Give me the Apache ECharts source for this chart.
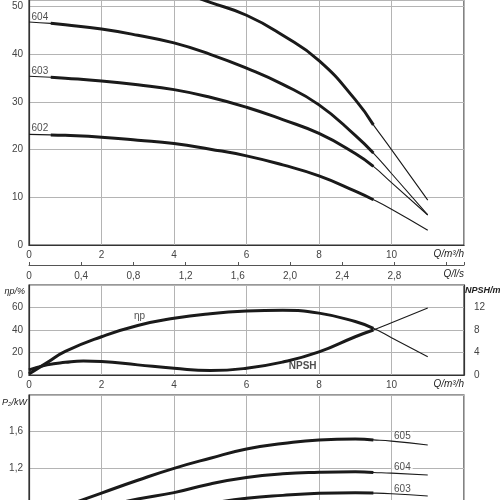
<!DOCTYPE html>
<html>
<head>
<meta charset="utf-8">
<script src="https://cdn.jsdelivr.net/npm/echarts@6/dist/echarts.min.js"></script>
<style>
  html, body { margin: 0; padding: 0; background: #fff; }
  #chart { width: 500px; height: 500px; }
</style>
</head>
<body>
<div id="chart"></div>
<script>
// head curves H (m) over Q (m³/h)
var qHead = [0, 0.6, 1, 2, 3, 4, 5, 6, 7, 8, 9, 9.5, 10, 11];
var head602 = [23.2, 23.1, 23.0, 22.6, 22.0, 21.3, 20.1, 18.7, 16.8, 14.5, 11.3, 9.5, 7.5, 3.1];
var head603 = [35.4, 35.2, 35.0, 34.4, 33.6, 32.6, 31.0, 28.9, 26.3, 23.4, 19.2, 16.5, 13.1, 6.3];
var head604 = [46.8, 46.5, 46.2, 45.3, 44.0, 42.4, 40.0, 37.1, 33.7, 29.4, 23.0, 19.3, 15.0, 6.3];
var head605 = [58.6, 58.4, 58.2, 57.3, 55.8, 53.6, 50.9, 48.2, 44.0, 38.7, 30.5, 25.2, 20.0, 9.4];
var headNames = ['602', '603', '604'];
var headNamePos = [[0.3, 24.4], [0.3, 36.5], [0.3, 47.7]];

// efficiency (%) and NPSH (m)
var qEff = [0, 0.5, 1, 2, 3, 4, 5, 6, 7, 8, 9, 9.5, 10, 11];
var eff = [1, 11, 21, 34, 44, 50.4, 54.5, 56.8, 57.5, 55, 47.5, 41.5, 33.2, 16.3];
var qNpsh = [0, 0.5, 1, 1.5, 2, 3, 4, 5, 6, 7, 8, 9, 9.5, 10, 11];
var npsh = [0.9, 1.8, 2.25, 2.5, 2.4, 1.8, 1.2, 0.8, 1.2, 2.3, 4.1, 6.8, 8.0, 9.3, 11.9];

// shaft power P2 (kW)
var qPow = [0, 1, 2, 3, 4, 5, 6, 7, 8, 9, 9.5, 10, 11];
var p603 = [0.5, 0.57, 0.63, 0.70, 0.76, 0.82, 0.873, 0.905, 0.927, 0.934, 0.93, 0.922, 0.898];
var p604 = [0.6, 0.69, 0.78, 0.865, 0.935, 1.03, 1.10, 1.14, 1.157, 1.163, 1.155, 1.148, 1.127];
var p605 = [0.66, 0.79, 0.93, 1.07, 1.2, 1.31, 1.41, 1.47, 1.51, 1.52, 1.51, 1.497, 1.455];
var powNames = ['605', '604', '603'];
var powNamePos = [[10.3, 1.545], [10.3, 1.207], [10.3, 0.975]];

var FONT = 'Liberation Sans';
var INK = '#1a1a1a';
var GRID_LINE = { show: true, lineStyle: { color: '#b4b4b4', width: 1 } };

function pts(q, v, lo, hi) {
  return q.map(function (x, i) { return [x, v[i]]; })
    .filter(function (p) { return p[0] >= lo && p[0] <= hi; });
}

// thin line over the whole range, thick line over the working range
function curve(xi, yi, q, v, lo, hi) {
  var base = { type: 'line', xAxisIndex: xi, yAxisIndex: yi, smooth: 0.5, showSymbol: false, silent: true };
  return [
    Object.assign({}, base, { data: pts(q, v, -1, 99), lineStyle: { color: INK, width: 1.1 } }),
    Object.assign({}, base, { data: pts(q, v, lo, hi), lineStyle: { color: INK, width: 3 } })
  ];
}

function tags(xi, yi, names, pos, extra) {
  return {
    type: 'scatter', xAxisIndex: xi, yAxisIndex: yi, symbolSize: 0, silent: true,
    data: names.map(function (n, i) { return { name: n, value: pos[i] }; }),
    label: Object.assign({
      show: true, position: 'inside', formatter: '{b}',
      fontFamily: FONT, fontSize: 10, color: '#222'
    }, extra || {})
  };
}

var qName = {
  nameLocation: 'end', nameGap: 0,
  nameTextStyle: { align: 'right', verticalAlign: 'top', padding: [4, 0, 0, 0],
    fontFamily: FONT, fontSize: 10, fontStyle: 'italic', color: '#222' }
};
var axisText = { fontFamily: FONT, fontSize: 10, color: '#444' };
var axisLine = { show: true, lineStyle: { color: '#333', width: 1.2 } };

function yName(align, pad, gap, bold) {
  return {
    nameLocation: 'end', nameGap: gap,
    nameTextStyle: { align: align, verticalAlign: 'middle', padding: pad,
      fontFamily: FONT, fontSize: 9, fontStyle: 'italic', fontWeight: bold ? 'bold' : 'normal', color: '#222' }
  };
}

function qAxis(gi, extra) {
  return Object.assign({
    type: 'value', gridIndex: gi, min: 0, max: 12, interval: 2,
    axisLine: axisLine, axisTick: { show: false }, splitLine: GRID_LINE,
    axisLabel: Object.assign({ margin: 5, showMaxLabel: false }, axisText)
  }, qName, extra || {});
}

function comma(v, d) { return v === 0 ? '0' : v.toFixed(d).replace('.', ','); }

var chart = echarts.init(document.getElementById('chart'));
var series = []
  .concat(curve(0, 0, qHead, head602, 0.6, 9.5))
  .concat(curve(0, 0, qHead, head603, 0.6, 9.5))
  .concat(curve(0, 0, qHead, head604, 0.6, 9.5))
  .concat(curve(0, 0, qHead, head605, 0.6, 9.5))
  .concat(curve(2, 1, qEff, eff, 0, 9.5))
  .concat(curve(2, 2, qNpsh, npsh, 0, 9.5))
  .concat(curve(3, 3, qPow, p603, 0, 9.5))
  .concat(curve(3, 3, qPow, p604, 0, 9.5))
  .concat(curve(3, 3, qPow, p605, 0, 9.5));
series.push(tags(0, 0, headNames, headNamePos));
series.push(tags(2, 1, ['ηp'], [[3.05, 51.8]]));
series.push(tags(2, 2, ['NPSH'], [[7.55, 1.6]], { fontWeight: 'bold' }));
series.push(tags(3, 3, powNames, powNamePos, { backgroundColor: '#fff', padding: [0, 2] }));

var gridBase = { left: 29, right: 36, show: true, borderColor: '#333', borderWidth: 1.2, outerBoundsMode: 'none', containLabel: false };

var option = {
  animation: false,
  backgroundColor: '#fff',
  grid: [
    Object.assign({ top: 0, height: 245 }, gridBase),
    Object.assign({ top: 285, height: 90 }, gridBase),
    Object.assign({ top: 395, height: 110 }, gridBase)
  ],
  xAxis: [
    qAxis(0, { name: 'Q/m³/h' }),
    Object.assign({}, qName, {
      type: 'value', gridIndex: 0, position: 'bottom', offset: 20,
      min: 0, max: 12 / 3.6, interval: 0.4, name: 'Q/l/s',
      axisLine: { show: true, lineStyle: { color: '#555', width: 1 } },
      axisTick: { show: true, inside: true, length: 3, lineStyle: { color: '#555' } },
      splitLine: { show: false },
      axisLabel: Object.assign({ margin: 6, formatter: function (v) { return v > 3 ? '' : comma(v, 1); } }, axisText)
    }),
    qAxis(1, { name: 'Q/m³/h' }),
    qAxis(2, { name: '', axisLabel: { show: false } })
  ],
  yAxis: [
    {
      type: 'value', gridIndex: 0, min: 0, max: 51.4, interval: 10,
      axisLine: axisLine, axisTick: { show: false }, splitLine: GRID_LINE,
      axisLabel: Object.assign({ margin: 6, showMaxLabel: false }, axisText)
    },
    Object.assign({
      type: 'value', gridIndex: 1, min: 0, max: 80, interval: 20, position: 'left',
      name: 'ηp/%',
      axisLine: axisLine, axisTick: { show: false }, splitLine: GRID_LINE,
      axisLabel: Object.assign({ margin: 6, showMaxLabel: false }, axisText)
    }, yName('right', [0, 4, 0, 0], -6, false)),
    Object.assign({
      type: 'value', gridIndex: 1, min: 0, max: 16, interval: 4, position: 'right',
      name: 'NPSH/m',
      axisLine: axisLine, axisTick: { show: false }, splitLine: { show: false },
      axisLabel: Object.assign({ margin: 10, showMaxLabel: false }, axisText)
    }, yName('left', [0, 0, 0, 1], -6, true)),
    Object.assign({
      type: 'value', gridIndex: 2, min: 0.8, max: 2.0, interval: 0.4,
      name: 'P₂/kW',
      axisLine: axisLine, axisTick: { show: false }, splitLine: GRID_LINE,
      axisLabel: Object.assign({ margin: 6, showMaxLabel: false, formatter: function (v) { return comma(v, 1); } }, axisText)
    }, yName('right', [0, 2, 0, 0], -7, false))
  ],
  series: series
};
chart.setOption(option);
</script>
</body>
</html>
